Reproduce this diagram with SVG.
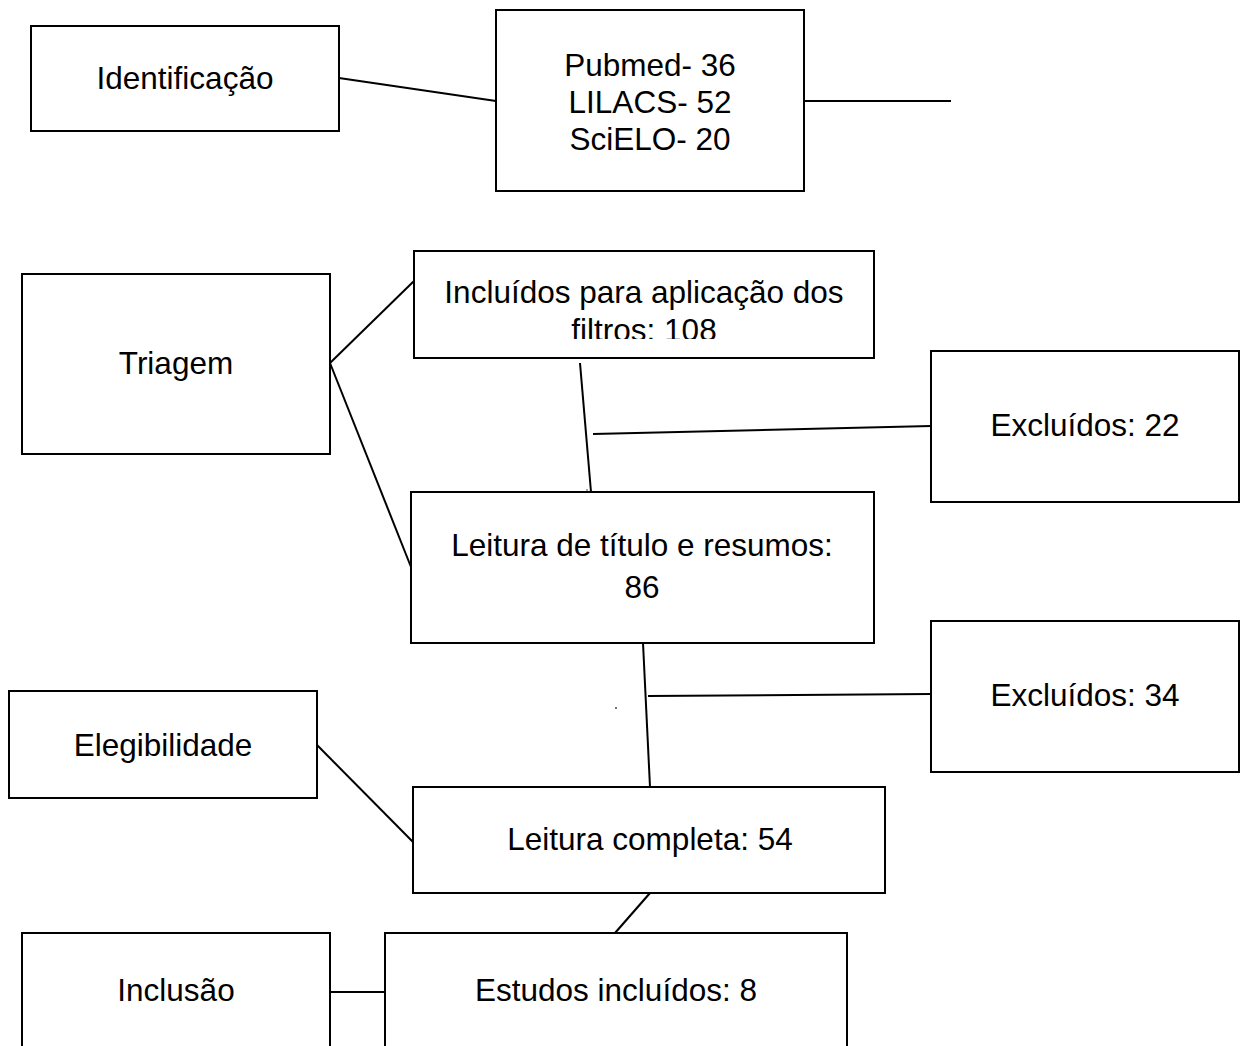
<svg xmlns="http://www.w3.org/2000/svg" width="1241" height="1046" viewBox="0 0 1241 1046">
<style>
.box{fill:#fff;stroke:#000;stroke-width:2}
.t{font-family:"Liberation Sans",Arial,sans-serif;font-size:31.5px;fill:#000;text-anchor:middle}
.c{stroke:#000;stroke-width:2;fill:none}
</style>
<defs>
<clipPath id="clipInc"><rect x="414" y="251" width="460" height="88"/></clipPath>
</defs>
<rect width="1241" height="1046" fill="#fff"/>
<g id="connectors">
<line class="c" x1="339" y1="78" x2="496" y2="101"/>
<line class="c" x1="804" y1="101" x2="951" y2="101"/>
<line class="c" x1="330" y1="363" x2="414" y2="281"/>
<line class="c" x1="330" y1="363" x2="411" y2="567"/>
<line class="c" x1="580" y1="363" x2="591" y2="492"/>
<line class="c" x1="593" y1="434" x2="931" y2="426"/>
<line class="c" x1="643" y1="643" x2="650" y2="787"/>
<line class="c" x1="648" y1="696" x2="931" y2="694"/>
<line class="c" x1="317" y1="745" x2="413" y2="842"/>
<line class="c" x1="650" y1="893" x2="615" y2="933"/>
<line class="c" x1="330" y1="992" x2="385" y2="992"/>
<circle cx="587" cy="490" r="1" fill="#888"/>
<circle cx="616" cy="708" r="1" fill="#444"/>
</g>
<g id="identificacao">
<rect class="box" x="31" y="26" width="308" height="105"/>
<text class="t" x="185" y="89">Identificação</text>
</g>
<g id="bases">
<rect class="box" x="496" y="10" width="308" height="181"/>
<text class="t" x="650" y="76">Pubmed- 36</text>
<text class="t" x="650" y="113">LILACS- 52</text>
<text class="t" x="650" y="150">SciELO- 20</text>
</g>
<g id="triagem">
<rect class="box" x="22" y="274" width="308" height="180"/>
<text class="t" x="176" y="374">Triagem</text>
</g>
<g id="incluidos">
<rect class="box" x="414" y="251" width="460" height="107"/>
<g clip-path="url(#clipInc)">
<text class="t" x="644" y="303">Incluídos para aplicação dos</text>
<text class="t" x="644" y="341">filtros: 108</text>
</g>
</g>
<g id="excluidos22">
<rect class="box" x="931" y="351" width="308" height="151"/>
<text class="t" x="1085" y="436">Excluídos: 22</text>
</g>
<g id="leitura-titulo">
<rect class="box" x="411" y="492" width="463" height="151"/>
<text class="t" x="642" y="556">Leitura de título e resumos:</text>
<text class="t" x="642" y="598">86</text>
</g>
<g id="excluidos34">
<rect class="box" x="931" y="621" width="308" height="151"/>
<text class="t" x="1085" y="706">Excluídos: 34</text>
</g>
<g id="elegibilidade">
<rect class="box" x="9" y="691" width="308" height="107"/>
<text class="t" x="163" y="756">Elegibilidade</text>
</g>
<g id="leitura-completa">
<rect class="box" x="413" y="787" width="472" height="106"/>
<text class="t" x="650" y="850">Leitura completa: 54</text>
</g>
<g id="inclusao">
<rect class="box" x="22" y="933" width="308" height="130"/>
<text class="t" x="176" y="1001">Inclusão</text>
</g>
<g id="estudos">
<rect class="box" x="385" y="933" width="462" height="130"/>
<text class="t" x="616" y="1001">Estudos incluídos: 8</text>
</g>
</svg>
